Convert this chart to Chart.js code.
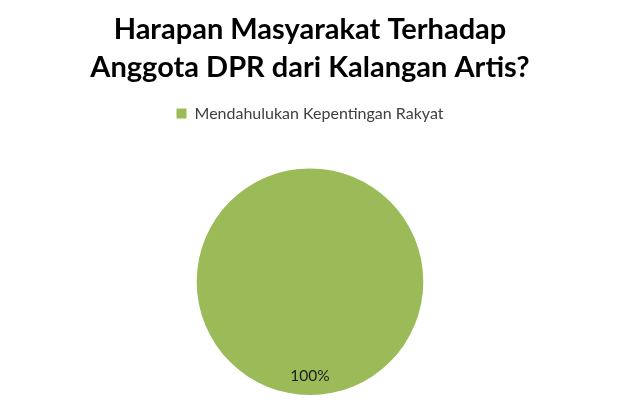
<!DOCTYPE html>
<html>
<head>
<meta charset="utf-8">
<script src="https://cdn.jsdelivr.net/npm/chart.js@4/dist/chart.umd.min.js"></script>
<style>
  html, body { margin: 0; padding: 0; background: #fff; }
  #wrap { width: 620px; height: 413px; }
</style>
</head>
<body>
<div id="wrap"><canvas id="pieHarapan"></canvas></div>
<script>
var titleLines = ['Harapan Masyarakat Terhadap', 'Anggota DPR dari Kalangan Artis?'];
var labels = ['Mendahulukan Kepentingan Rakyat'];
var values = [100];
var colors = ['#9bbb59'];

// draws "100%" inside each slice, Excel-style
var sliceLabels = {
    id: 'sliceLabels',
    afterDatasetsDraw: function (chart) {
        var ctx = chart.ctx;
        var meta = chart.getDatasetMeta(0);
        var total = values.reduce(function (a, b) { return a + b; }, 0);
        ctx.save();
        ctx.font = '15.5px Lato';
        ctx.fillStyle = '#1c1c1c';
        ctx.textAlign = 'center';
        ctx.textBaseline = 'middle';
        meta.data.forEach(function (arc, i) {
            var mid = (arc.startAngle + arc.endAngle) / 2;
            var r = arc.outerRadius * 0.83;
            var x = arc.x + Math.cos(mid) * r;
            var y = arc.y + Math.sin(mid) * r;
            ctx.fillText(Math.round(values[i] / total * 100) + '%', x, y);
        });
        ctx.restore();
    }
};

// extra gap under the legend so the pie sits lower
var legendGap = {
    id: 'legendGap',
    beforeInit: function (chart) {
        var fit = chart.legend.fit;
        chart.legend.fit = function () {
            fit.bind(chart.legend)();
            this.height += 37;
        };
    }
};

new Chart(document.getElementById('pieHarapan').getContext('2d'), {
    type: 'pie',
    data: {
        labels: labels,
        datasets: [{
            data: values,
            backgroundColor: colors,
            borderWidth: 0
        }]
    },
    options: {
        responsive: true,
        maintainAspectRatio: false,
        animation: false,
        layout: {
            padding: { top: 0, bottom: 18, left: 0, right: 0 }
        },
        plugins: {
            title: {
                display: true,
                text: titleLines,
                color: '#000',
                font: { family: 'Lato', size: 29, weight: 'bold', lineHeight: 1.3 },
                padding: { top: 11, bottom: 9 }
            },
            legend: {
                position: 'top',
                labels: {
                    color: '#404040',
                    font: { family: 'Lato', size: 16 },
                    boxWidth: 10,
                    boxHeight: 10,
                    padding: 10
                }
            },
            tooltip: { enabled: false }
        }
    },
    plugins: [sliceLabels, legendGap]
});
</script>
</body>
</html>
